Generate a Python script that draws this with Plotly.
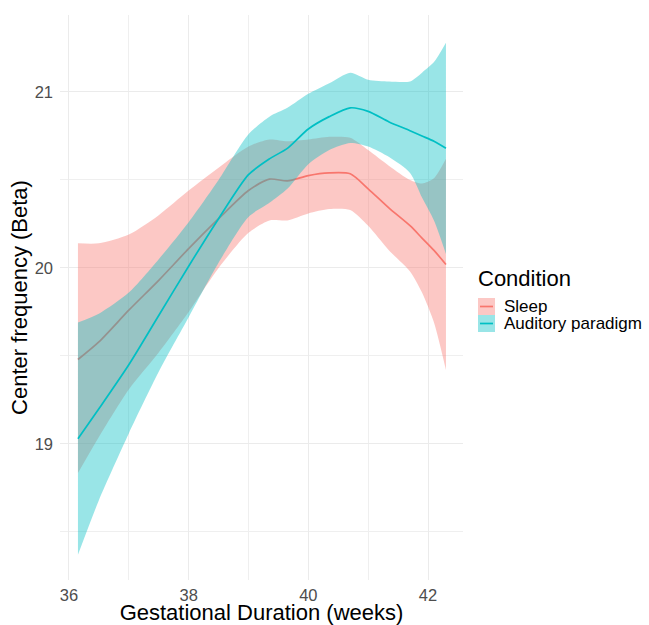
import plotly.graph_objects as go

# ---- data ----
weeks = [36.15, 36.5, 37.0, 37.5, 38.0, 38.5, 39.0, 39.35, 39.65, 40.0,
         40.35, 40.7, 41.0, 41.35, 41.7, 41.9, 42.1, 42.3]

sleep_mean = [19.48, 19.58, 19.76, 19.93, 20.11, 20.28, 20.44, 20.505, 20.495, 20.525,
              20.54, 20.535, 20.45, 20.34, 20.24, 20.17, 20.10, 20.02]
sleep_lower = [18.835, 19.04, 19.31, 19.52, 19.75, 20.0, 20.2, 20.27, 20.27, 20.31,
               20.335, 20.33, 20.24, 20.10, 19.98, 19.86, 19.69, 19.42]
sleep_upper = [20.14, 20.14, 20.19, 20.30, 20.44, 20.57, 20.69, 20.73, 20.72, 20.73,
               20.745, 20.74, 20.67, 20.58, 20.50, 20.48, 20.51, 20.62]

aud_mean = [19.03, 19.20, 19.45, 19.73, 20.01, 20.28, 20.53, 20.62, 20.68, 20.79,
            20.86, 20.91, 20.89, 20.83, 20.78, 20.75, 20.72, 20.68]
aud_lower = [18.37, 18.68, 19.06, 19.41, 19.72, 20.03, 20.29, 20.37, 20.45, 20.59,
             20.67, 20.71, 20.69, 20.63, 20.54, 20.40, 20.27, 20.08]
aud_upper = [19.69, 19.74, 19.86, 20.05, 20.26, 20.50, 20.76, 20.86, 20.91, 20.99,
             21.05, 21.11, 21.07, 21.06, 21.06, 21.11, 21.17, 21.28]

x_ticks = [36, 38, 40, 42]
x_minor = [37, 39, 41]
y_ticks = [19, 20, 21]
y_minor = [18.5, 19.5, 20.5, 21.5]

conditions = ["Sleep", "Auditory paradigm"]
line_colors = ["#F8766D", "#00BFC4"]
fill_colors = ["rgba(248,118,109,0.4)", "rgba(0,191,196,0.4)"]

FONT = "Liberation Sans, Arial, sans-serif"

series = [
    (sleep_lower, sleep_upper, sleep_mean),
    (aud_lower, aud_upper, aud_mean),
]

fig = go.Figure()
for (lo, hi, mu), name, lc, fc in zip(series, conditions, line_colors, fill_colors):
    fig.add_trace(go.Scatter(x=weeks, y=lo, mode="lines",
                             line=dict(width=0, shape="spline", smoothing=0.7),
                             showlegend=False, hoverinfo="skip"))
    fig.add_trace(go.Scatter(x=weeks, y=hi, mode="lines", fill="tonexty",
                             fillcolor=fc,
                             line=dict(width=0, shape="spline", smoothing=0.7),
                             showlegend=False, hoverinfo="skip"))
    fig.add_trace(go.Scatter(x=weeks, y=mu, mode="lines", name=name,
                             line=dict(color=lc, width=1.7, shape="spline", smoothing=0.7),
                             showlegend=False))

# ---- manual legend (ggplot-style keys) ----
px_l, px_r, px_t, px_b = 60, 463, 15, 580
def paper_x(px):
    return (px - px_l) / (px_r - px_l)
def paper_y(py):
    return (px_b - py) / (px_b - px_t)

fig.add_annotation(x=paper_x(476), y=paper_y(278), xref="paper", yref="paper",
                   text="Condition", showarrow=False, xanchor="left", yanchor="middle",
                   font=dict(family=FONT, size=22, color="#000000"))
key_top = 298
key_h = 17
for i, (name, lc, fc) in enumerate(zip(conditions, line_colors, fill_colors)):
    top = key_top + i * key_h
    fig.add_shape(type="rect", xref="paper", yref="paper",
                  x0=paper_x(478), x1=paper_x(495), y0=paper_y(top + key_h), y1=paper_y(top),
                  fillcolor=fc, line=dict(width=0))
    fig.add_shape(type="line", xref="paper", yref="paper",
                  x0=paper_x(480), x1=paper_x(493),
                  y0=paper_y(top + key_h / 2), y1=paper_y(top + key_h / 2),
                  line=dict(color=lc, width=1.7))
    fig.add_annotation(x=paper_x(503), y=paper_y(top + key_h / 2), xref="paper", yref="paper",
                       text=name, showarrow=False, xanchor="left", yanchor="middle",
                       borderpad=0,
                       font=dict(family=FONT, size=17, color="#000000"))

fig.update_layout(
    width=649, height=625,
    margin=dict(l=60, r=186, t=15, b=45, autoexpand=False),
    plot_bgcolor="white", paper_bgcolor="white",
    font=dict(family=FONT),
    showlegend=False,
    xaxis=dict(
        range=[35.85, 42.585], tickmode="array", tickvals=x_ticks,
        showgrid=True, gridcolor="#EBEBEB", gridwidth=1.1,
        minor=dict(tickmode="array", tickvals=x_minor, showgrid=True,
                   gridcolor="#EFEFEF", gridwidth=0.6),
        zeroline=False, showline=False, ticks="", automargin=False,
        ticklabelstandoff=3,
        tickfont=dict(family=FONT, size=16.5, color="#4D4D4D"),
        title=dict(text="Gestational Duration (weeks)", standoff=2,
                   font=dict(family=FONT, size=22, color="#000000")),
    ),
    yaxis=dict(
        range=[18.227, 21.4375], tickmode="array", tickvals=y_ticks,
        showgrid=True, gridcolor="#EBEBEB", gridwidth=1.1,
        minor=dict(tickmode="array", tickvals=y_minor, showgrid=True,
                   gridcolor="#EFEFEF", gridwidth=0.6),
        zeroline=False, showline=False, ticks="", automargin=False,
        ticklabelstandoff=6,
        tickfont=dict(family=FONT, size=16.5, color="#4D4D4D"),
        title=dict(text="Center frequency (Beta)", standoff=0,
                   font=dict(family=FONT, size=22, color="#000000")),
    ),
)

fig.write_html("out.html",
               config={"displayModeBar": False},
               post_script="document.body.style.margin='0';document.body.style.padding='0';")
